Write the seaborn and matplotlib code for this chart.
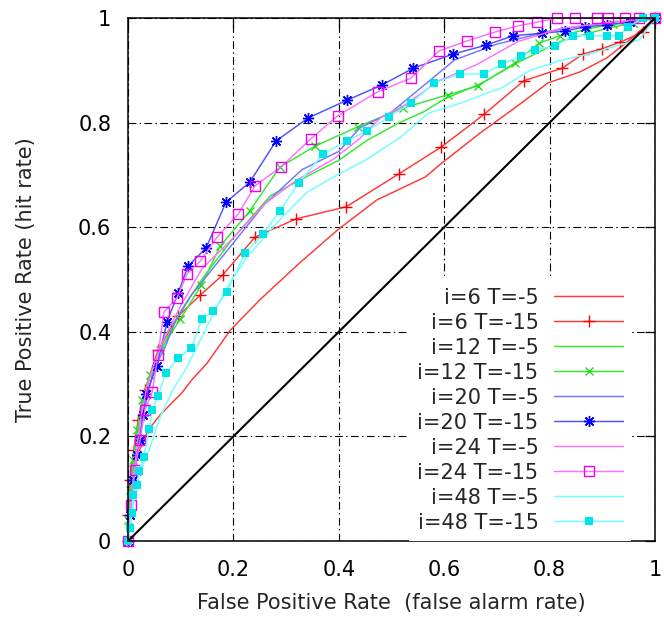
import numpy as np
import matplotlib.pyplot as plt
import pandas as pd
import seaborn as sns

# ROC curves: (false positive rate, true positive rate)
fpr_6_5 = [0, 0, 0.006, 0.015, 0.027, 0.038, 0.061, 0.083, 0.102, 0.121, 0.150, 0.194, 0.250,
           0.326, 0.398, 0.472, 0.564, 0.596, 0.668, 0.734, 0.797, 0.858, 0.909, 0.947, 1]
tpr_6_5 = [0, 0.059, 0.117, 0.164, 0.184, 0.212, 0.241, 0.264, 0.283, 0.308, 0.340, 0.403, 0.461,
           0.532, 0.595, 0.652, 0.696, 0.723, 0.780, 0.828, 0.876, 0.897, 0.924, 0.954, 1]

fpr_6_15 = [0, 0, 0.004, 0.011, 0.019, 0.032, 0.057, 0.095, 0.137, 0.180, 0.241, 0.319, 0.414,
            0.514, 0.594, 0.676, 0.751, 0.824, 0.863, 0.899, 0.934, 0.977, 1]
tpr_6_15 = [0, 0.05, 0.117, 0.174, 0.231, 0.289, 0.365, 0.430, 0.470, 0.509, 0.581, 0.616, 0.639,
            0.702, 0.753, 0.816, 0.880, 0.904, 0.931, 0.941, 0.954, 0.973, 1]

fpr_12_5 = [0, 0.003, 0.008, 0.015, 0.025, 0.037, 0.05, 0.07, 0.1, 0.14, 0.2, 0.27, 0.345, 0.4,
            0.455, 0.515, 0.56, 0.6, 0.67, 0.74, 0.82, 0.9, 1]
tpr_12_5 = [0, 0.07, 0.13, 0.19, 0.25, 0.30, 0.34, 0.38, 0.44, 0.50, 0.58, 0.66, 0.70, 0.728,
            0.767, 0.80, 0.82, 0.845, 0.875, 0.915, 0.955, 0.978, 1]

fpr_12_15 = [0, 0, 0.004, 0.01, 0.017, 0.027, 0.042, 0.061, 0.099, 0.139, 0.175, 0.231, 0.288,
             0.355, 0.436, 0.522, 0.607, 0.664, 0.734, 0.780, 0.820, 0.873, 0.920, 0.958, 1]
tpr_12_15 = [0, 0.04, 0.098, 0.155, 0.212, 0.27, 0.317, 0.365, 0.424, 0.489, 0.564, 0.631, 0.715,
             0.755, 0.792, 0.828, 0.853, 0.870, 0.914, 0.952, 0.966, 0.979, 0.989, 0.990, 1]

fpr_20_5 = [0, 0.004, 0.01, 0.018, 0.027, 0.037, 0.05, 0.07, 0.09, 0.12, 0.16, 0.2, 0.26, 0.33,
            0.4, 0.44, 0.5, 0.56, 0.62, 0.7, 0.8, 0.9, 1]
tpr_20_5 = [0, 0.05, 0.11, 0.17, 0.23, 0.28, 0.33, 0.37, 0.42, 0.47, 0.52, 0.57, 0.645, 0.71,
            0.745, 0.79, 0.82, 0.87, 0.92, 0.95, 0.975, 0.99, 1]

fpr_20_15 = [0, 0.004, 0.01, 0.017, 0.023, 0.028, 0.034, 0.055, 0.074, 0.095, 0.114, 0.148, 0.186,
             0.231, 0.281, 0.342, 0.416, 0.482, 0.541, 0.617, 0.679, 0.731, 0.786, 0.829, 0.867,
             0.909, 0.953, 1]
tpr_20_15 = [0, 0.05, 0.117, 0.164, 0.193, 0.241, 0.281, 0.335, 0.419, 0.474, 0.526, 0.560, 0.648,
             0.686, 0.765, 0.809, 0.843, 0.872, 0.904, 0.931, 0.948, 0.966, 0.971, 0.975, 0.983,
             0.987, 0.992, 1]

fpr_24_5 = [0, 0.004, 0.01, 0.017, 0.025, 0.035, 0.05, 0.07, 0.1, 0.14, 0.2, 0.26, 0.32, 0.39,
            0.44, 0.48, 0.52, 0.59, 0.66, 0.74, 0.82, 0.9, 1]
tpr_24_5 = [0, 0.06, 0.12, 0.18, 0.24, 0.29, 0.34, 0.39, 0.45, 0.52, 0.58, 0.645, 0.69, 0.73,
            0.77, 0.81, 0.83, 0.88, 0.91, 0.955, 0.98, 0.99, 1]

fpr_24_15 = [0, 0.006, 0.013, 0.023, 0.032, 0.046, 0.057, 0.068, 0.093, 0.112, 0.137, 0.169, 0.209,
             0.241, 0.290, 0.347, 0.398, 0.474, 0.537, 0.590, 0.643, 0.696, 0.740, 0.776, 0.814,
             0.848, 0.890, 0.911, 0.943, 0.97, 1]
tpr_24_15 = [0, 0.069, 0.136, 0.193, 0.250, 0.285, 0.356, 0.438, 0.465, 0.511, 0.535, 0.581, 0.625,
             0.679, 0.715, 0.769, 0.813, 0.859, 0.885, 0.937, 0.956, 0.973, 0.985, 0.992, 1.0,
             1.0, 1.0, 1.0, 1.0, 1.0, 1]

fpr_48_5 = [0, 0.005, 0.012, 0.02, 0.03, 0.042, 0.061, 0.085, 0.112, 0.14, 0.175, 0.197, 0.226,
            0.288, 0.34, 0.39, 0.45, 0.516, 0.57, 0.636, 0.712, 0.763, 0.825, 0.882, 0.93, 0.97, 1]
tpr_48_5 = [0, 0.04, 0.08, 0.12, 0.15, 0.18, 0.237, 0.289, 0.333, 0.39, 0.461, 0.499, 0.543,
            0.614, 0.667, 0.696, 0.728, 0.771, 0.818, 0.839, 0.868, 0.90, 0.92, 0.933, 0.948,
            0.958, 1]

fpr_48_15 = [0, 0.004, 0.008, 0.009, 0.017, 0.021, 0.030, 0.040, 0.046, 0.057, 0.072, 0.095, 0.120,
             0.140, 0.161, 0.188, 0.222, 0.256, 0.288, 0.324, 0.370, 0.416, 0.454, 0.495, 0.537,
             0.581, 0.630, 0.676, 0.710, 0.746, 0.772, 0.810, 0.844, 0.877, 0.909, 0.932, 0.949,
             0.977, 1]
tpr_48_15 = [0, 0.025, 0.054, 0.088, 0.107, 0.134, 0.161, 0.214, 0.250, 0.277, 0.321, 0.350, 0.369,
             0.424, 0.440, 0.476, 0.551, 0.587, 0.631, 0.685, 0.740, 0.765, 0.784, 0.811, 0.837,
             0.876, 0.893, 0.893, 0.912, 0.927, 0.939, 0.946, 0.966, 0.966, 0.966, 0.966, 0.983,
             1.0, 1]

labels = ["i=6 T=-5", "i=6 T=-15", "i=12 T=-5", "i=12 T=-15", "i=20 T=-5",
          "i=20 T=-15", "i=24 T=-5", "i=24 T=-15", "i=48 T=-5", "i=48 T=-15"]
xs = [fpr_6_5, fpr_6_15, fpr_12_5, fpr_12_15, fpr_20_5, fpr_20_15, fpr_24_5, fpr_24_15, fpr_48_5, fpr_48_15]
ys = [tpr_6_5, tpr_6_15, tpr_12_5, tpr_12_15, tpr_20_5, tpr_20_15, tpr_24_5, tpr_24_15, tpr_48_5, tpr_48_15]
chance = [0, 1]

line_colors = ["#ff3838", "#ff3838", "#33e833", "#33e833", "#7474ff",
               "#5050ff", "#ff70ff", "#ff70ff", "#70ffff", "#70ffff"]
styles = [
    dict(),
    dict(marker="+", ms=8, mew=1.0, mec="#ff0000"),
    dict(),
    dict(marker="x", ms=5.5, mew=1.0, mec="#22dd22"),
    dict(),
    dict(marker=(8, 2, 0), ms=8, mew=1.0, mec="#0000ff"),
    dict(),
    dict(marker="s", ms=6.5, mfc="none", mew=1.0, mec="#ee00ee"),
    dict(),
    dict(marker="s", ms=6, mfc="#00e6e6", mew=0, mec="#00e6e6"),
]

sns.set_style("white")
plt.rcParams["font.family"] = ["DejaVu Sans"]

fig, ax = plt.subplots(figsize=(6.64, 6.23), dpi=100)
fig.subplots_adjust(left=0.1928, right=0.9864, top=0.9711, bottom=0.1316)

for x, y, lab, c, st in zip(xs, ys, labels, line_colors, styles):
    df = pd.DataFrame({"fpr": x, "tpr": y})
    sns.lineplot(data=df, x="fpr", y="tpr", ax=ax, color=c, lw=1.05, sort=False,
                 estimator=None, label=lab, clip_on=False, **st)

sns.lineplot(x=chance, y=chance, ax=ax, color="black", lw=1.5, estimator=None)

ax.set_xlim(0, 1)
ax.set_ylim(0, 1)
ticks = [0, 0.2, 0.4, 0.6, 0.8, 1]
ticklabels = ["0", "0.2", "0.4", "0.6", "0.8", "1"]
ax.set_xticks(ticks, ticklabels)
ax.set_yticks(ticks, ticklabels)
ax.tick_params(axis="both", direction="in", length=7, width=0.9, top=True, right=True,
               labelsize=15, colors="black")
ax.tick_params(axis="x", pad=14)
ax.tick_params(axis="y", pad=12)
ax.grid(True, color="black", lw=0.8, linestyle=(0, (7, 3, 1.3, 3)))
ax.set_axisbelow(True)
for sp in ax.spines.values():
    sp.set_color("black")
    sp.set_linewidth(1.1)

ax.set_xlabel("False Positive Rate  (false alarm rate)", fontsize=15, labelpad=9)
ax.set_ylabel("True Positive Rate (hit rate)", fontsize=15, labelpad=30)

leg = ax.legend(loc="lower right", bbox_to_anchor=(0.955, 0.0), borderaxespad=0, borderpad=0.4,
                markerfirst=False, fontsize=15, handlelength=3.3, handletextpad=0.75,
                labelspacing=0.24, frameon=True, fancybox=False, framealpha=1)
leg.get_frame().set_edgecolor("none")
leg.get_frame().set_facecolor("white")

fig.savefig("out.png", dpi=100)
